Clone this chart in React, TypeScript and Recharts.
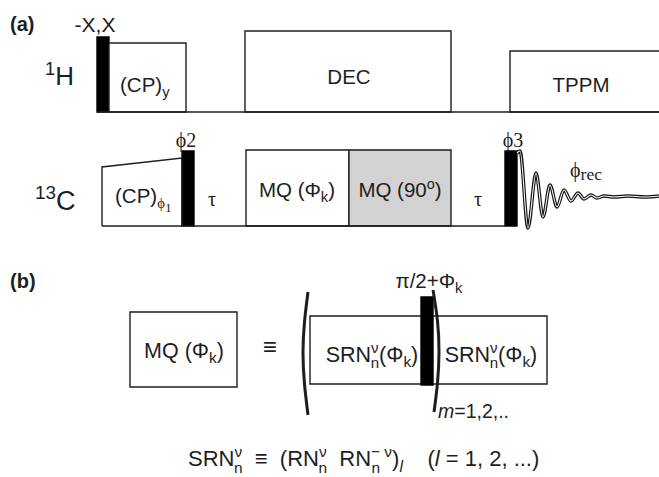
import React from 'react';
import { ComposedChart, XAxis, YAxis, ReferenceArea, ReferenceLine, Line, Scatter } from 'recharts';

// Timeline units (horizontal = sequence time, vertical = channel level)
const W = 659;
const H = 477;

// Rectangular elements of the pulse sequence: kind = pulse (black), box (open), shaded (grey)
const blocks = [
  { id: 'H-pulse', kind: 'pulse', x1: 97, x2: 109, y1: 37, y2: 112 },
  { id: 'H-CP', kind: 'box', x1: 109, x2: 186, y1: 43, y2: 112 },
  { id: 'H-DEC', kind: 'box', x1: 245, x2: 451, y1: 31, y2: 112 },
  { id: 'H-TPPM', kind: 'box', x1: 510, x2: 668, y1: 51, y2: 112 },
  { id: 'C-phi2', kind: 'pulse', x1: 182, x2: 194, y1: 151, y2: 226 },
  { id: 'C-MQ', kind: 'box', x1: 246, x2: 349, y1: 150, y2: 226 },
  { id: 'C-MQ90', kind: 'shaded', x1: 349, x2: 451, y1: 150, y2: 226 },
  { id: 'C-phi3', kind: 'pulse', x1: 505, x2: 517, y1: 151, y2: 226 },
  { id: 'b-MQ', kind: 'box', x1: 130, x2: 237, y1: 312, y2: 387 },
  { id: 'b-inner', kind: 'box', x1: 310, x2: 547, y1: 316, y2: 384 },
  { id: 'b-pulse', kind: 'pulse', x1: 421, x2: 433, y1: 297, y2: 385 },
];

// Channel baselines
const baselines = [
  { id: 'H', x1: 97, x2: 659, y: 112 },
  { id: 'C', x1: 102, x2: 505, y: 226 },
];

// CP ramp on 13C
const cpRamp = [
  { x: 102, y: 226 },
  { x: 102, y: 167 },
  { x: 182, y: 158 },
  { x: 182, y: 226 },
];

// FID (peaks / troughs)
const fid = [
  { x: 517, y: 153 },
  { x: 520, y: 151 },
  { x: 528, y: 228 },
  { x: 536, y: 173 },
  { x: 543, y: 217 },
  { x: 550, y: 185 },
  { x: 557, y: 207 },
  { x: 564, y: 190 },
  { x: 571, y: 201 },
  { x: 578, y: 193 },
  { x: 584, y: 199 },
  { x: 591, y: 195 },
  { x: 597, y: 198 },
  { x: 604, y: 196 },
  { x: 614, y: 197 },
  { x: 628, y: 196 },
  { x: 645, y: 197 },
  { x: 659, y: 196 },
];

// Big brackets of part (b)
const leftParen = [
  { x: 308, y: 292 },
  { x: 304.5, y: 322 },
  { x: 303, y: 353 },
  { x: 304.5, y: 384 },
  { x: 308, y: 415 },
];
const rightParen = [
  { x: 433, y: 290 },
  { x: 437.5, y: 321 },
  { x: 439, y: 352 },
  { x: 437.5, y: 383 },
  { x: 434, y: 412 },
];

// Text labels: markup  ^{sup} _{sub} |{sub stacked under previous sup} ~ serif * italic ! deeper sub = big sub
const labels = [
  { id: 'a', x: 10, y: 31, text: '(a)', style: 'panel', anchor: 'start' },
  { id: 'xx', x: 95, y: 32, text: '-X,X', style: 'phase', anchor: 'middle' },
  { id: 'H', x: 45, y: 85, text: '^{1}H', style: 'nucH', anchor: 'start' },
  { id: 'C', x: 35, y: 210, text: '^{13}C', style: 'nucC', anchor: 'start' },
  { id: 'cpy', x: 120, y: 92, text: '(CP)_{y}', style: 'block', anchor: 'start' },
  { id: 'dec', x: 349, y: 84, text: 'DEC', style: 'block', anchor: 'middle' },
  { id: 'tppm', x: 581, y: 92, text: 'TPPM', style: 'block', anchor: 'middle' },
  { id: 'phi2', x: 186, y: 147, text: '~{ϕ2}', style: 'serif', anchor: 'middle' },
  { id: 'phi3', x: 513, y: 147, text: '~{ϕ3}', style: 'serif', anchor: 'middle' },
  { id: 'cpphi', x: 115, y: 203, text: '(CP)_~{ϕ}!~{1}', style: 'block', anchor: 'start' },
  { id: 'tau1', x: 212, y: 206, text: '~{τ}', style: 'serif', anchor: 'middle' },
  { id: 'tau2', x: 478, y: 206, text: '~{τ}', style: 'serif', anchor: 'middle' },
  { id: 'mq', x: 297, y: 197, text: 'MQ (Φ_{k})', style: 'block', anchor: 'middle' },
  { id: 'mq90', x: 400, y: 197, text: 'MQ (90^{o})', style: 'block', anchor: 'middle' },
  { id: 'rec', x: 570, y: 177, text: '~{ϕ}=~{rec}', style: 'serif', anchor: 'start' },
  { id: 'b', x: 10, y: 288, text: '(b)', style: 'panel', anchor: 'start' },
  { id: 'bmq', x: 184, y: 358, text: 'MQ (Φ_{k})', style: 'blockB', anchor: 'middle' },
  { id: 'equiv', x: 270, y: 355, text: '≡', style: 'equiv', anchor: 'middle' },
  { id: 'pi2', x: 429, y: 288, text: 'π/2+Φ_{k}', style: 'block', anchor: 'middle' },
  { id: 'srn1', x: 372, y: 362, text: 'SRN^{ν}|{n}(Φ_{k})', style: 'blockB', anchor: 'middle' },
  { id: 'srn2', x: 491, y: 362, text: 'SRN^{ν}|{n}(Φ_{k})', style: 'blockB', anchor: 'middle' },
  { id: 'm', x: 438, y: 418, text: '*{m}=1,2,..', style: 'small', anchor: 'start' },
  {
    id: 'formula',
    x: 188,
    y: 466,
    text: 'SRN^{ν}|{n}  ≡  (RN^{ν}|{n}  RN^{− ν}|{n})_*{l}    (*{l} = 1, 2, ...)',
    style: 'formula',
    anchor: 'start',
  },
];

const SANS = '"Liberation Sans", Arial, Helvetica, sans-serif';
const SERIF = '"Liberation Serif", "Times New Roman", "DejaVu Serif", serif';
const INK = '#1e1e1e';

const textStyles: Record<string, { size: number; weight?: number }> = {
  panel: { size: 20, weight: 700 },
  phase: { size: 21 },
  nucH: { size: 26 },
  nucC: { size: 27 },
  block: { size: 20.5 },
  blockB: { size: 21.5 },
  formula: { size: 22 },
  serif: { size: 20 },
  equiv: { size: 24 },
  small: { size: 19.5 },
};

type Seg = { t: string; sup?: boolean; sub?: boolean; stk?: boolean; serif?: boolean; it?: boolean; deep?: boolean; big?: boolean };

function parse(s: string): Seg[] {
  const out: Seg[] = [];
  let i = 0;
  let buf = '';
  const flush = () => {
    if (buf) out.push({ t: buf });
    buf = '';
  };
  while (i < s.length) {
    let j = i;
    while (j < s.length && '^_|~*!='.includes(s[j])) j++;
    if (j > i && s[j] === '{') {
      const flags = s.slice(i, j);
      const end = s.indexOf('}', j);
      flush();
      out.push({
        t: s.slice(j + 1, end),
        sup: flags.includes('^'),
        sub: flags.includes('_'),
        stk: flags.includes('|'),
        serif: flags.includes('~'),
        it: flags.includes('*'),
        deep: flags.includes('!'),
        big: flags.includes('='),
      });
      i = end + 1;
    } else {
      buf += s[i];
      i++;
    }
  }
  flush();
  return out;
}

function RichText(props: any) {
  const { cx, cy, payload } = props;
  if (cx == null || cy == null || !payload) return null;
  const st = textStyles[payload.style] || { size: 20 };
  const S = st.size;
  const segs = parse(payload.text);
  let cur = 0;
  let prevSupW = 0;
  let pending = 0;
  const spans = segs.map((g, k) => {
    let off = 0;
    let size = S;
    let dx = pending;
    pending = 0;
    if (g.sup) {
      off = -0.4 * S;
      size = 0.7 * S;
    } else if (g.stk) {
      off = 0.3 * S;
      size = 0.7 * S;
      dx = -prevSupW;
      const subW = g.t.length * 0.55 * size;
      pending = Math.max(0, prevSupW - subW);
    } else if (g.sub) {
      off = 0.25 * S;
      size = 0.72 * S;
    } else if (g.deep) {
      off = 0.45 * S;
      size = 0.65 * S;
    } else if (g.big) {
      off = 0.15 * S;
      size = 0.88 * S;
    }
    if (g.sup) prevSupW = g.t.replace(/ /g, '').length * 0.53 * size + (g.t.includes(' ') ? 0.28 * size : 0);
    const dy = off - cur;
    cur = off;
    return (
      <tspan
        key={k}
        dy={dy}
        dx={dx || undefined}
        fontSize={size}
        fontFamily={g.serif ? SERIF : undefined}
        fontStyle={g.it ? 'italic' : undefined}
      >
        {g.t}
      </tspan>
    );
  });
  return (
    <text
      x={cx}
      y={cy}
      textAnchor={payload.anchor}
      fontFamily={payload.style === 'serif' ? SERIF : SANS}
      fontWeight={st.weight || 400}
      fontSize={S}
      fill={INK}
      style={{ whiteSpace: 'pre' }}
    >
      {spans}
    </text>
  );
}

const fillFor = (kind: string) => (kind === 'pulse' ? '#000' : kind === 'shaded' ? '#d2d2d2' : '#fff');

export default function App() {
  return (
    <div style={{ position: 'absolute', left: 0, top: 0, width: W, height: H, background: '#fff' }}>
      <ComposedChart width={W} height={H} margin={{ top: 0, right: 0, bottom: 0, left: 0 }}>
        <XAxis type="number" dataKey="x" domain={[0, W]} hide allowDataOverflow />
        <YAxis type="number" dataKey="y" domain={[0, H]} reversed hide allowDataOverflow />
        {blocks.map((b) => (
          <ReferenceArea
            key={b.id}
            x1={b.x1}
            x2={b.x2}
            y1={b.y1}
            y2={b.y2}
            ifOverflow="visible"
            fill={fillFor(b.kind)}
            fillOpacity={1}
            stroke={b.kind === 'pulse' ? '#000' : INK}
            strokeWidth={1.4}
            zIndex={100}
          />
        ))}
        {baselines.map((l) => (
          <ReferenceLine
            key={l.id}
            segment={[
              { x: l.x1, y: l.y },
              { x: l.x2, y: l.y },
            ]}
            stroke={INK}
            strokeWidth={1.4}
            ifOverflow="visible"
            zIndex={110}
          />
        ))}
        <Line data={cpRamp} dataKey="y" type="linear" stroke={INK} strokeWidth={1.4} dot={false} isAnimationActive={false} />
        <Line data={leftParen} dataKey="y" type="natural" stroke={INK} strokeWidth={3} dot={false} isAnimationActive={false} />
        <Line data={rightParen} dataKey="y" type="natural" stroke={INK} strokeWidth={3} dot={false} isAnimationActive={false} />
        <Line data={fid} dataKey="y" type="monotoneX" stroke="#111" strokeWidth={3.4} dot={false} isAnimationActive={false} />
        <Line data={fid} dataKey="y" type="monotoneX" stroke="#fff" strokeWidth={1.1} dot={false} isAnimationActive={false} />
        <Scatter data={labels} dataKey="y" shape={RichText} isAnimationActive={false} zIndex={2000} />
      </ComposedChart>
    </div>
  );
}
